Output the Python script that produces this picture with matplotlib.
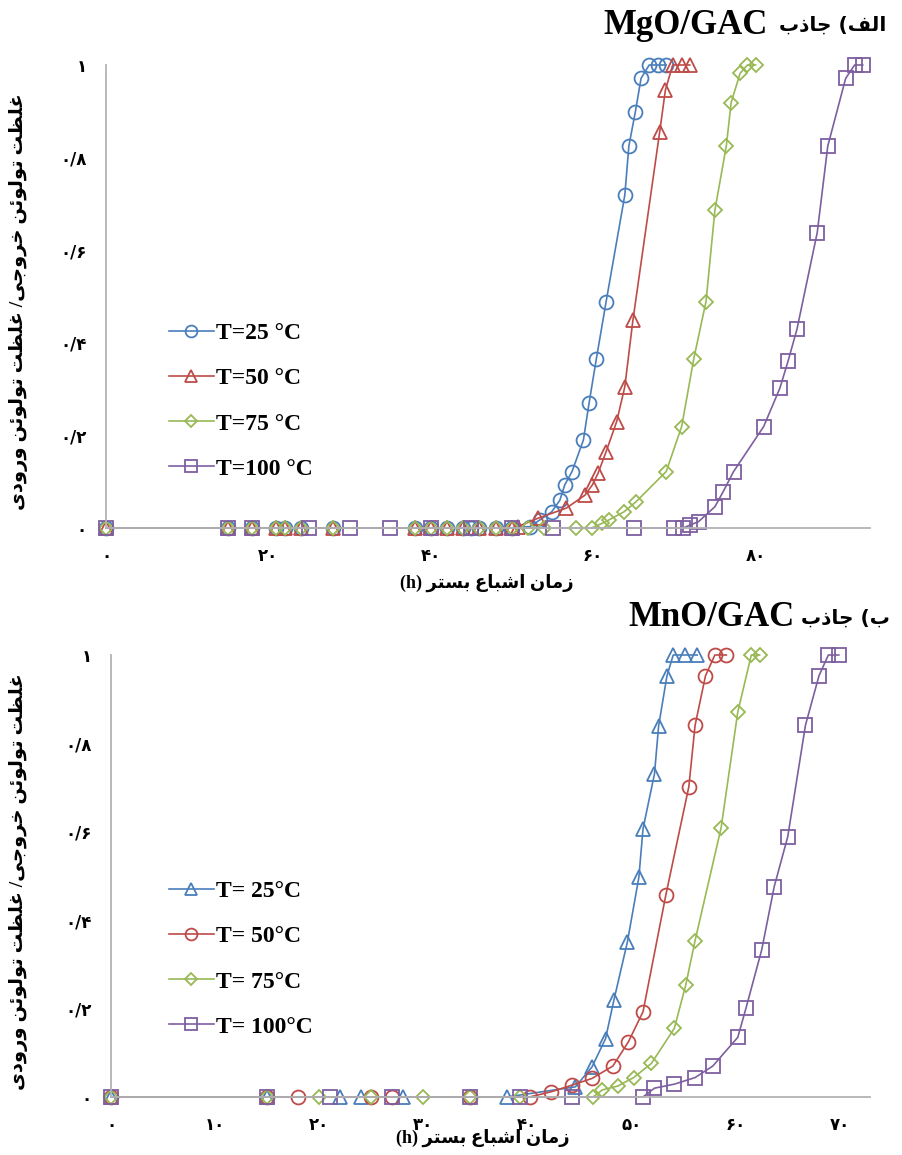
import matplotlib
matplotlib.use('Agg')
import matplotlib.pyplot as plt

# ── Data (time in h, C/C0) ───────────────────────────────────────────────────
# MgO/GAC
t_mg_25 = [0, 15, 18, 21, 22, 24, 28, 38, 40, 42, 44, 45, 46, 48, 50,
           52.2, 53.4, 54.9, 55.9, 56.5, 57.4, 58.8, 59.5, 60.4, 61.6, 63.9,
           64.4, 65.2, 65.9, 66.9, 68, 69]
c_mg_25 = [0, 0, 0, 0, 0, 0, 0, 0, 0, 0, 0, 0, 0, 0, 0,
           0.003, 0.017, 0.035, 0.06, 0.093, 0.122, 0.19, 0.27, 0.366, 0.489, 0.719,
           0.825, 0.899, 0.971, 1, 1, 1]
t_mg_50 = [0, 15, 18, 21, 22, 24, 28, 38, 40, 42, 44, 46, 48, 50,
           50.7, 53.2, 56.7, 59.0, 59.9, 60.6, 61.6, 62.9, 63.9, 64.9, 68.2,
           68.9, 69.8, 70.9, 71.9]
c_mg_50 = [0, 0, 0, 0, 0, 0, 0, 0, 0, 0, 0, 0, 0, 0,
           0.003, 0.021, 0.043, 0.071, 0.093, 0.118, 0.165, 0.23, 0.305, 0.449, 0.856,
           0.946, 1, 1, 1]
t_mg_75 = [0, 15, 18, 21, 22, 24, 28, 38, 40, 42, 44, 46, 48, 50, 52, 54, 57.9, 59.8,
           61.1, 61.9, 63.8, 65.3, 69.0, 70.9, 72.4, 73.9, 75.0, 76.4, 77.0, 78.1,
           79.0, 80.0]
c_mg_75 = [0, 0, 0, 0, 0, 0, 0, 0, 0, 0, 0, 0, 0, 0, 0, 0, 0, 0,
           0.01, 0.017, 0.035, 0.057, 0.122, 0.219, 0.366, 0.489, 0.687, 0.825, 0.919, 0.982,
           1, 1]
t_mg_100 = [0, 15, 18, 25, 30, 35, 40, 45, 50, 55, 65, 70, 71.1,
            71.9, 73.0, 75.0, 76.0, 77.3, 81.0, 83.0, 84.0, 85.1, 87.6, 88.9, 91.1,
            92.2, 93.2]
c_mg_100 = [0, 0, 0, 0, 0, 0, 0, 0, 0, 0, 0, 0, 0,
            0.006, 0.014, 0.046, 0.078, 0.122, 0.219, 0.302, 0.36, 0.429, 0.638, 0.825, 0.971,
            1, 1]

# MnO/GAC
t_mn_25 = [0, 15, 22, 24, 28, 38, 44.6, 46.2, 47.5, 48.3, 49.6, 50.7, 51.1, 52.2,
           52.6, 53.4, 54.0, 55.1, 56.3]
c_mn_25 = [0, 0, 0, 0, 0, 0, 0.023, 0.068, 0.132, 0.219, 0.351, 0.497, 0.607, 0.731,
           0.84, 0.953, 1, 1, 1]
t_mn_50 = [0, 15, 18, 25, 27, 34.5, 40.2, 42.3, 44.3, 46.2, 48.2, 49.7, 51.1, 53.3,
           55.5, 56.1, 57.1, 58.0, 59.1]
c_mn_50 = [0, 0, 0, 0, 0, 0, 0, 0.012, 0.027, 0.042, 0.07, 0.125, 0.193, 0.458,
           0.702, 0.841, 0.953, 1, 1]
t_mn_75 = [0, 15, 20, 25, 30, 34.5, 39.3, 46.3, 47.2, 48.7, 50.2, 51.9, 54.1, 55.2,
           56.1, 58.6, 60.2, 61.5, 62.3]
c_mn_75 = [0, 0, 0, 0, 0, 0, 0, 0, 0.016, 0.025, 0.044, 0.076, 0.155, 0.253,
           0.354, 0.609, 0.871, 1, 1]
t_mn_100 = [0, 15, 21, 27, 34.5, 39.3, 44.3, 51.1, 52.2, 54.1, 56.1, 57.8, 60.2, 61.0,
            62.5, 63.7, 65.0, 66.7, 68.0, 68.9, 69.9]
c_mn_100 = [0, 0, 0, 0, 0, 0, 0, 0, 0.02, 0.029, 0.044, 0.07, 0.135, 0.202,
            0.333, 0.476, 0.589, 0.841, 0.953, 1, 1]

labels_mg = ['T=25 °C', 'T=50 °C', 'T=75 °C', 'T=100 °C']
labels_mn = ['T= 25°C', 'T= 50°C', 'T= 75°C', 'T= 100°C']
xticks_mg = [0, 20, 40, 60, 80]
xticks_mn = [0, 10, 20, 30, 40, 50, 60, 70]
yticks = [0, 0.2, 0.4, 0.6, 0.8, 1.0]

BLUE, RED, GREEN, PURPLE = '#4a7ebb', '#be4b48', '#98b954', '#7d5fa0'

# ── Persian text: matplotlib has no shaping, so use presentation forms ──────
# letter -> (isolated, final, initial, medial); None = does not join forward
FORMS = {
    'ا': ('\uFE8D', '\uFE8E', None, None),
    'ب': ('\uFE8F', '\uFE90', '\uFE91', '\uFE92'),
    'ت': ('\uFE95', '\uFE96', '\uFE97', '\uFE98'),
    'ج': ('\uFE9D', '\uFE9E', '\uFE9F', '\uFEA0'),
    'خ': ('\uFEA5', '\uFEA6', '\uFEA7', '\uFEA8'),
    'د': ('\uFEA9', '\uFEAA', None, None),
    'ذ': ('\uFEAB', '\uFEAC', None, None),
    'ر': ('\uFEAD', '\uFEAE', None, None),
    'ز': ('\uFEAF', '\uFEB0', None, None),
    'س': ('\uFEB1', '\uFEB2', '\uFEB3', '\uFEB4'),
    'ش': ('\uFEB5', '\uFEB6', '\uFEB7', '\uFEB8'),
    'ظ': ('\uFEC5', '\uFEC6', '\uFEC7', '\uFEC8'),
    'ع': ('\uFEC9', '\uFECA', '\uFECB', '\uFECC'),
    'غ': ('\uFECD', '\uFECE', '\uFECF', '\uFED0'),
    'ف': ('\uFED1', '\uFED2', '\uFED3', '\uFED4'),
    'ل': ('\uFEDD', '\uFEDE', '\uFEDF', '\uFEE0'),
    'م': ('\uFEE1', '\uFEE2', '\uFEE3', '\uFEE4'),
    'ن': ('\uFEE5', '\uFEE6', '\uFEE7', '\uFEE8'),
    'و': ('\uFEED', '\uFEEE', None, None),
    'ئ': ('\uFE89', '\uFE8A', '\uFE8B', '\uFE8C'),
    'ی': ('\uFEEF', '\uFEF0', '\uFEF3', '\uFEF4'),
}


def shape_word(w):
    out = []
    for i, ch in enumerate(w):
        f = FORMS.get(ch)
        if f is None:
            out.append(ch)
            continue
        prev = w[i - 1] if i > 0 else None
        nxt = w[i + 1] if i + 1 < len(w) else None
        jp = prev in FORMS and FORMS[prev][2] is not None
        jn = nxt in FORMS and f[2] is not None
        if jp and jn:
            out.append(f[3])
        elif jp:
            out.append(f[1])
        elif jn:
            out.append(f[2])
        else:
            out.append(f[0])
    return ''.join(reversed(out))


def fa(text):
    return ' '.join(shape_word(w) for w in reversed(text.split(' ')))


def fa_num(v):
    s = f'{v:g}'.replace('.', '/')
    return s.translate(str.maketrans('0123456789', '۰۱۲۳۴۵۶۷۸۹'))


MIX = ['Liberation Serif', 'DejaVu Sans']
ylab = fa('غلظت تولوئن خروجی/ غلظت تولوئن ورودی')
xlab = '(h) ' + fa('زمان اشباع بستر')

W, H = 902, 1155
fig = plt.figure(figsize=(W / 100, H / 100), dpi=100)


def px_axes(x0, x1, y_top, y_bot):
    return fig.add_axes([x0 / W, 1 - y_bot / H, (x1 - x0) / W, (y_bot - y_top) / H])


def style(ax, xmax, xticks):
    ax.set_xlim(0, xmax)
    ax.set_ylim(0, 1)
    for s in ('top', 'right'):
        ax.spines[s].set_visible(False)
    for s in ('left', 'bottom'):
        ax.spines[s].set_color('#b3b3b3')
        ax.spines[s].set_linewidth(1.3)
    ax.set_xticks(xticks)
    ax.set_xticklabels([fa_num(v) for v in xticks])
    ax.set_yticks(yticks)
    ax.set_yticklabels([fa_num(v) for v in yticks])
    ax.tick_params(length=0, labelsize=12)
    ax.tick_params(axis='x', pad=14)
    ax.tick_params(axis='y', pad=14)
    for lab in ax.get_xticklabels() + ax.get_yticklabels():
        lab.set_fontweight('bold')


def series(ax, t, c, color, marker, ms, label):
    ax.plot(t, c, color=color, lw=1.2, marker=marker, ms=ms, mfc='none',
            mec=color, mew=1.3, label=label, clip_on=False)


# ── (a) MgO/GAC ───────────────────────────────────────────────────────────────
ax1 = px_axes(106, 870, 65, 528)
style(ax1, 94.1, xticks_mg)
series(ax1, t_mg_25, c_mg_25, BLUE, 'o', 10, labels_mg[0])
series(ax1, t_mg_50, c_mg_50, RED, '^', 10, labels_mg[1])
series(ax1, t_mg_75, c_mg_75, GREEN, 'D', 7.5, labels_mg[2])
series(ax1, t_mg_100, c_mg_100, PURPLE, 's', 9.5, labels_mg[3])

# ── (b) MnO/GAC ───────────────────────────────────────────────────────────────
ax2 = px_axes(111, 870, 655, 1097)
style(ax2, 72.9, xticks_mn)
series(ax2, t_mn_25, c_mn_25, BLUE, '^', 10, labels_mn[0])
series(ax2, t_mn_50, c_mn_50, RED, 'o', 10, labels_mn[1])
series(ax2, t_mn_75, c_mn_75, GREEN, 'D', 7.5, labels_mn[2])
series(ax2, t_mn_100, c_mn_100, PURPLE, 's', 9.5, labels_mn[3])

for ax, top in ((ax1, 311), (ax2, 869)):
    ax.legend(loc='upper left', bbox_to_anchor=(157 / W, 1 - top / H),
              bbox_transform=fig.transFigure, frameon=False, borderpad=0,
              handlelength=1.9, handletextpad=0.1, labelspacing=1.0,
              markerscale=0.85,
              prop={'family': 'Liberation Serif', 'weight': 'bold', 'size': 17})

# ── Text ──────────────────────────────────────────────────────────────────────
fig.text(603 / W, 1 - 25 / H, 'MgO/GAC', ha='left', va='center',
         family='Liberation Serif', weight='bold', fontsize=25)
fig.text(779 / W, 1 - 25 / H, fa('جاذب') + ' (' + fa('الف'), ha='left', va='center',
         family='DejaVu Sans', weight='bold', fontsize=14.5)
fig.text(628 / W, 1 - 618 / H, 'MnO/GAC', ha='left', va='center',
         family='Liberation Serif', weight='bold', fontsize=25)
fig.text(801 / W, 1 - 618 / H, fa('جاذب') + ' (' + fa('ب'), ha='left', va='center',
         family='DejaVu Sans', weight='bold', fontsize=14.5)

fig.text(487 / W, 1 - 583 / H, xlab, ha='center', va='center',
         family=MIX, weight='bold', fontsize=13)
fig.text(483 / W, 1 - 1138 / H, xlab, ha='center', va='center',
         family=MIX, weight='bold', fontsize=13)

fig.text(19 / W, 1 - 302 / H, ylab, rotation=90, ha='center', va='center',
         family=MIX, weight='bold', fontsize=14)
fig.text(19 / W, 1 - 882 / H, ylab, rotation=90, ha='center', va='center',
         family=MIX, weight='bold', fontsize=14)

fig.savefig('out.png', dpi=100)
